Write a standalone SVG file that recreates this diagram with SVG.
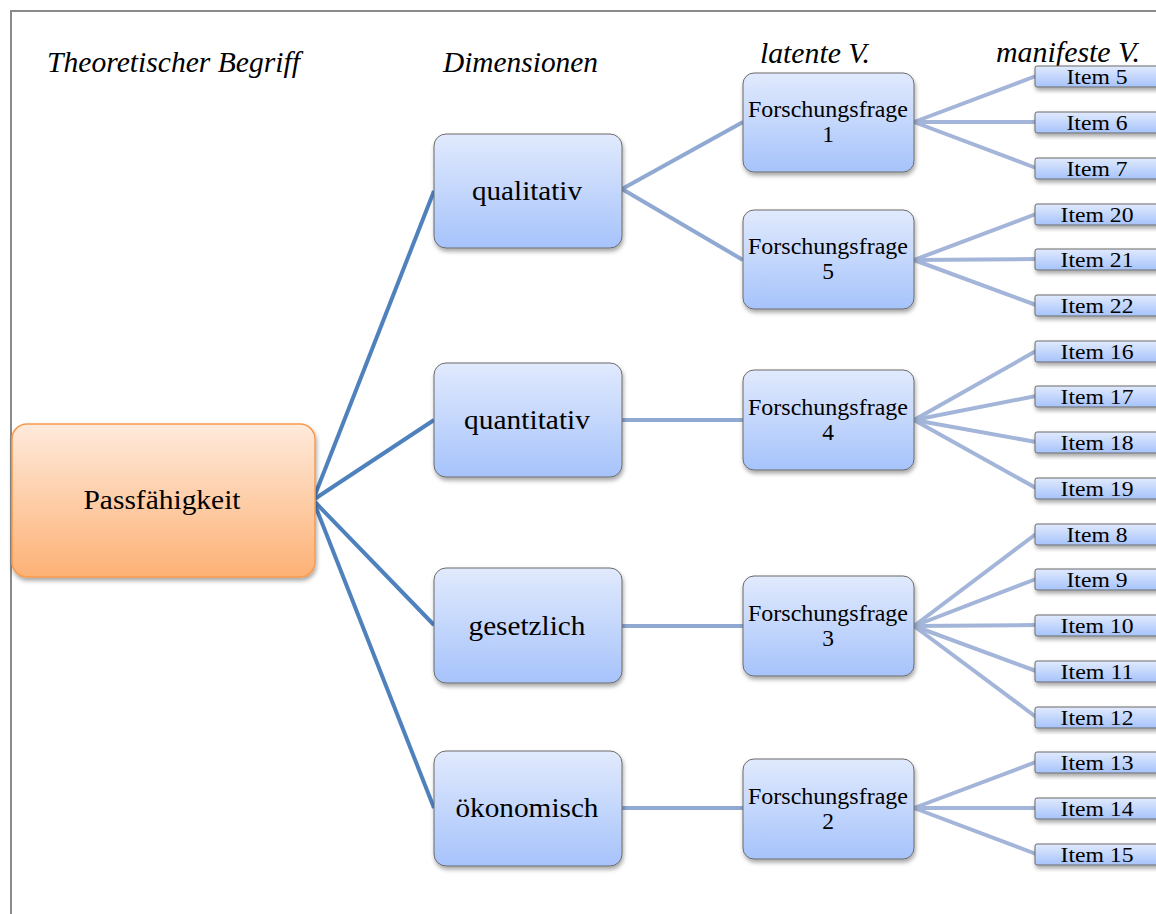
<svg xmlns="http://www.w3.org/2000/svg" width="1156" height="914" viewBox="0 0 1156 914">
  <defs>
    <linearGradient id="gOrange" x1="0" y1="0" x2="0" y2="1">
      <stop offset="0" stop-color="#feeadb"/>
      <stop offset="1" stop-color="#fdb175"/>
    </linearGradient>
    <linearGradient id="gBlue" x1="0" y1="0" x2="0" y2="1">
      <stop offset="0" stop-color="#e1eafd"/>
      <stop offset="1" stop-color="#a6c3fb"/>
    </linearGradient>
    <filter id="shadow" x="-10%" y="-10%" width="130%" height="140%">
      <feDropShadow dx="1" dy="3" stdDeviation="2" flood-color="#000" flood-opacity="0.35"/>
    </filter>
  </defs>
  <style>
    .hdr { font-family: "Liberation Serif", serif; font-style: italic; font-size: 29px; fill: #000; }
    .lbl { font-family: "Liberation Serif", serif; fill: #000; text-anchor: middle; }
    .big { font-size: 28px; }
    .mid { font-size: 23.5px; }
    .itm { font-size: 22px; }
    .blue { fill: url(#gBlue); stroke: #6b6b6b; stroke-width: 1; filter: url(#shadow); }
    .orange { fill: url(#gOrange); stroke: #f79a4e; stroke-width: 1.5; filter: url(#shadow); }
    .c1 { stroke: #4f81bd; stroke-width: 4; fill: none; }
    .c2 { stroke: #8fa9d2; stroke-width: 4; fill: none; }
    .c3 { stroke: #a3b5d8; stroke-width: 4; fill: none; }
  </style>

  <rect width="1156" height="914" fill="#fff"/>
  <!-- page frame -->
  <path d="M11,914 V11 H1156" fill="none" stroke="#8a8a8a" stroke-width="2"/>

  <!-- column headings -->
  <text class="hdr" x="47" y="72" textLength="253" lengthAdjust="spacingAndGlyphs">Theoretischer Begriff</text>
  <text class="hdr" x="443" y="72" textLength="155" lengthAdjust="spacingAndGlyphs">Dimensionen</text>
  <text class="hdr" x="760" y="63" textLength="110" lengthAdjust="spacingAndGlyphs">latente V.</text>
  <text class="hdr" x="996" y="62" textLength="144" lengthAdjust="spacingAndGlyphs">manifeste V.</text>

  <g id="connectors">
    <line class="c1" x1="313" y1="500" x2="434" y2="191"/>
    <line class="c1" x1="313" y1="500" x2="434" y2="420"/>
    <line class="c1" x1="313" y1="500" x2="434" y2="625"/>
    <line class="c1" x1="313" y1="500" x2="434" y2="808"/>

    <line class="c2" x1="622" y1="189" x2="743" y2="122"/>
    <line class="c2" x1="622" y1="189" x2="743" y2="260"/>
    <line class="c2" x1="622" y1="420" x2="743" y2="420"/>
    <line class="c2" x1="622" y1="626" x2="743" y2="626"/>
    <line class="c2" x1="622" y1="808" x2="743" y2="808"/>

    <line class="c3" x1="914" y1="122" x2="1036" y2="76"/>
    <line class="c3" x1="914" y1="122" x2="1036" y2="122"/>
    <line class="c3" x1="914" y1="122" x2="1036" y2="168"/>
    <line class="c3" x1="914" y1="260" x2="1036" y2="214"/>
    <line class="c3" x1="914" y1="260" x2="1036" y2="259"/>
    <line class="c3" x1="914" y1="260" x2="1036" y2="305"/>
    <line class="c3" x1="914" y1="420" x2="1036" y2="351"/>
    <line class="c3" x1="914" y1="420" x2="1036" y2="396"/>
    <line class="c3" x1="914" y1="420" x2="1036" y2="442"/>
    <line class="c3" x1="914" y1="420" x2="1036" y2="488"/>
    <line class="c3" x1="914" y1="626" x2="1036" y2="534"/>
    <line class="c3" x1="914" y1="626" x2="1036" y2="579"/>
    <line class="c3" x1="914" y1="626" x2="1036" y2="625"/>
    <line class="c3" x1="914" y1="626" x2="1036" y2="671"/>
    <line class="c3" x1="914" y1="626" x2="1036" y2="717"/>
    <line class="c3" x1="914" y1="808" x2="1036" y2="762"/>
    <line class="c3" x1="914" y1="808" x2="1036" y2="808"/>
    <line class="c3" x1="914" y1="808" x2="1036" y2="854"/>
  </g>

  <g id="passfaehigkeit">
    <rect class="orange" x="12" y="424" width="303" height="153" rx="15"/>
    <text class="lbl big" x="162" y="509" textLength="157" lengthAdjust="spacingAndGlyphs">Passfähigkeit</text>
  </g>

  <g id="qualitativ">
    <rect class="blue" x="434" y="134" width="188" height="114" rx="12"/>
    <text class="lbl big" x="527" y="200" textLength="110" lengthAdjust="spacingAndGlyphs">qualitativ</text>
  </g>
  <g id="quantitativ">
    <rect class="blue" x="434" y="363" width="188" height="114" rx="12"/>
    <text class="lbl big" x="527" y="429" textLength="126" lengthAdjust="spacingAndGlyphs">quantitativ</text>
  </g>
  <g id="gesetzlich">
    <rect class="blue" x="434" y="568" width="188" height="115" rx="12"/>
    <text class="lbl big" x="527" y="635" textLength="117" lengthAdjust="spacingAndGlyphs">gesetzlich</text>
  </g>
  <g id="oekonomisch">
    <rect class="blue" x="434" y="751" width="188" height="115" rx="12"/>
    <text class="lbl big" x="527" y="817" textLength="143" lengthAdjust="spacingAndGlyphs">ökonomisch</text>
  </g>

  <g id="ff1">
    <rect class="blue" x="743" y="73" width="171" height="99" rx="11"/>
    <text class="lbl mid" x="828" y="117" textLength="160" lengthAdjust="spacingAndGlyphs">Forschungsfrage</text>
    <text class="lbl mid" x="828" y="142">1</text>
  </g>
  <g id="ff5">
    <rect class="blue" x="743" y="210" width="171" height="99" rx="11"/>
    <text class="lbl mid" x="828" y="254" textLength="160" lengthAdjust="spacingAndGlyphs">Forschungsfrage</text>
    <text class="lbl mid" x="828" y="279">5</text>
  </g>
  <g id="ff4">
    <rect class="blue" x="743" y="370" width="171" height="100" rx="11"/>
    <text class="lbl mid" x="828" y="415" textLength="160" lengthAdjust="spacingAndGlyphs">Forschungsfrage</text>
    <text class="lbl mid" x="828" y="440">4</text>
  </g>
  <g id="ff3">
    <rect class="blue" x="743" y="576" width="171" height="100" rx="11"/>
    <text class="lbl mid" x="828" y="621" textLength="160" lengthAdjust="spacingAndGlyphs">Forschungsfrage</text>
    <text class="lbl mid" x="828" y="646">3</text>
  </g>
  <g id="ff2">
    <rect class="blue" x="743" y="759" width="171" height="100" rx="11"/>
    <text class="lbl mid" x="828" y="804" textLength="160" lengthAdjust="spacingAndGlyphs">Forschungsfrage</text>
    <text class="lbl mid" x="828" y="829">2</text>
  </g>

  <g id="item5"><rect class="blue" x="1035" y="66" width="126" height="21" rx="2"/><text class="lbl itm" x="1097" y="84" textLength="61" lengthAdjust="spacingAndGlyphs">Item 5</text></g>
  <g id="item6"><rect class="blue" x="1035" y="112" width="126" height="21" rx="2"/><text class="lbl itm" x="1097" y="130" textLength="61" lengthAdjust="spacingAndGlyphs">Item 6</text></g>
  <g id="item7"><rect class="blue" x="1035" y="158" width="126" height="21" rx="2"/><text class="lbl itm" x="1097" y="176" textLength="61" lengthAdjust="spacingAndGlyphs">Item 7</text></g>
  <g id="item20"><rect class="blue" x="1035" y="204" width="126" height="21" rx="2"/><text class="lbl itm" x="1097" y="222" textLength="73" lengthAdjust="spacingAndGlyphs">Item 20</text></g>
  <g id="item21"><rect class="blue" x="1035" y="249" width="126" height="21" rx="2"/><text class="lbl itm" x="1097" y="267" textLength="73" lengthAdjust="spacingAndGlyphs">Item 21</text></g>
  <g id="item22"><rect class="blue" x="1035" y="295" width="126" height="21" rx="2"/><text class="lbl itm" x="1097" y="313" textLength="73" lengthAdjust="spacingAndGlyphs">Item 22</text></g>
  <g id="item16"><rect class="blue" x="1035" y="341" width="126" height="21" rx="2"/><text class="lbl itm" x="1097" y="359" textLength="73" lengthAdjust="spacingAndGlyphs">Item 16</text></g>
  <g id="item17"><rect class="blue" x="1035" y="386" width="126" height="21" rx="2"/><text class="lbl itm" x="1097" y="404" textLength="73" lengthAdjust="spacingAndGlyphs">Item 17</text></g>
  <g id="item18"><rect class="blue" x="1035" y="432" width="126" height="21" rx="2"/><text class="lbl itm" x="1097" y="450" textLength="73" lengthAdjust="spacingAndGlyphs">Item 18</text></g>
  <g id="item19"><rect class="blue" x="1035" y="478" width="126" height="21" rx="2"/><text class="lbl itm" x="1097" y="496" textLength="73" lengthAdjust="spacingAndGlyphs">Item 19</text></g>
  <g id="item8"><rect class="blue" x="1035" y="524" width="126" height="21" rx="2"/><text class="lbl itm" x="1097" y="542" textLength="61" lengthAdjust="spacingAndGlyphs">Item 8</text></g>
  <g id="item9"><rect class="blue" x="1035" y="569" width="126" height="21" rx="2"/><text class="lbl itm" x="1097" y="587" textLength="61" lengthAdjust="spacingAndGlyphs">Item 9</text></g>
  <g id="item10"><rect class="blue" x="1035" y="615" width="126" height="21" rx="2"/><text class="lbl itm" x="1097" y="633" textLength="73" lengthAdjust="spacingAndGlyphs">Item 10</text></g>
  <g id="item11"><rect class="blue" x="1035" y="661" width="126" height="21" rx="2"/><text class="lbl itm" x="1097" y="679" textLength="73" lengthAdjust="spacingAndGlyphs">Item 11</text></g>
  <g id="item12"><rect class="blue" x="1035" y="707" width="126" height="21" rx="2"/><text class="lbl itm" x="1097" y="725" textLength="73" lengthAdjust="spacingAndGlyphs">Item 12</text></g>
  <g id="item13"><rect class="blue" x="1035" y="752" width="126" height="21" rx="2"/><text class="lbl itm" x="1097" y="770" textLength="73" lengthAdjust="spacingAndGlyphs">Item 13</text></g>
  <g id="item14"><rect class="blue" x="1035" y="798" width="126" height="21" rx="2"/><text class="lbl itm" x="1097" y="816" textLength="73" lengthAdjust="spacingAndGlyphs">Item 14</text></g>
  <g id="item15"><rect class="blue" x="1035" y="844" width="126" height="21" rx="2"/><text class="lbl itm" x="1097" y="862" textLength="73" lengthAdjust="spacingAndGlyphs">Item 15</text></g>
</svg>
